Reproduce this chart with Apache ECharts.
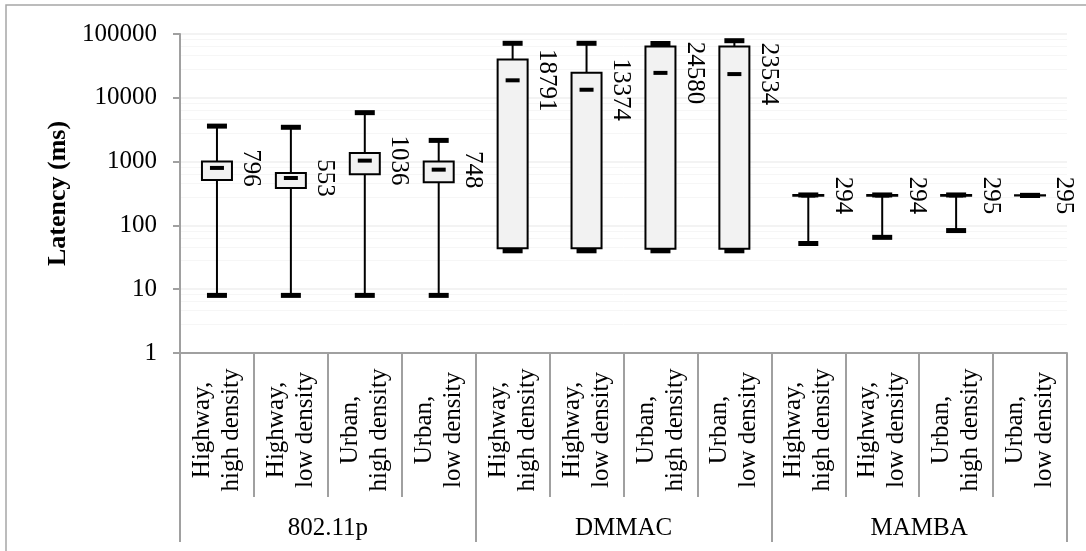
<!DOCTYPE html>
<html><head><meta charset="utf-8">
<script src="https://cdn.jsdelivr.net/npm/echarts@6/dist/echarts.min.js"></script>
<style>html,body{margin:0;padding:0;background:#fff}#c{width:1086px;height:551px}</style>
</head><body><div id="c"></div>
<script>
var categories = ["Highway,\nhigh density","Highway,\nlow density","Urban,\nhigh density","Urban,\nlow density",
                  "Highway,\nhigh density","Highway,\nlow density","Urban,\nhigh density","Urban,\nlow density",
                  "Highway,\nhigh density","Highway,\nlow density","Urban,\nhigh density","Urban,\nlow density"];
var groups = ["802.11p","DMMAC","MAMBA"];
var mins    = [8, 8, 8, 8, 40, 40, 40, 40, 52, 65, 83, 294];
var q1s     = [515, 386, 633, 473, 44, 44, 43, 43, 292, 292, 292, 295];
var medians = [796, 553, 1036, 748, 18791, 13374, 24580, 23534, 294, 294, 295, 295];
var q3s     = [1000, 660, 1360, 1000, 40000, 24700, 63500, 63500, 300, 300, 300, 296];
var maxs    = [3600, 3450, 5850, 2150, 71500, 71500, 71000, 78500, 300, 300, 300, 296];
var yTicks  = [1, 10, 100, 1000, 10000, 100000];

var FONT = "'Liberation Serif','Times New Roman',serif";
var data = categories.map(function(c, i){ return [i, mins[i], q1s[i], medians[i], q3s[i], maxs[i]]; });

var chart = echarts.init(document.getElementById('c'));
chart.setOption({
  animation: false,
  grid: {left: 180, right: 19, top: 34, bottom: 198},
  graphic: [{type:'rect', shape:{x:6, y:5, width:1200, height:700}, style:{fill:'none', stroke:'#a6a6a6', lineWidth:1.5}, silent:true}],
  xAxis: [{
    type: 'category', data: categories, position: 'bottom',
    axisLine: {show: true, lineStyle: {color: '#a0a0a0', width: 2}},
    axisTick: {show: true, interval: 0, length: 144, lineStyle: {color: '#a0a0a0', width: 2}},
    axisLabel: {interval: 0, rotate: 90, align: 'center', verticalAlign: 'middle', margin: 77,
                fontFamily: FONT, fontSize: 25, lineHeight: 29, color: '#000'},
    splitLine: {show: false}
  }, {
    type: 'category', data: groups, position: 'bottom',
    axisLine: {show: false},
    axisTick: {show: true, interval: 0, length: 189, lineStyle: {color: '#a0a0a0', width: 2}},
    axisLabel: {interval: 0, margin: 175, verticalAlign: 'middle', fontFamily: FONT, fontSize: 25, color: '#000'},
    splitLine: {show: false}
  }],
  yAxis: {
    type: 'log', logBase: 10, min: 1, max: 100000,
    name: 'Latency (ms)', nameLocation: 'middle', nameGap: 109, nameRotate: 90,
    nameTextStyle: {fontFamily: FONT, fontSize: 26, fontWeight: 'bold', color: '#000'},
    axisLine: {show: true, lineStyle: {color: '#a0a0a0', width: 2}},
    axisTick: {show: true, length: 7, lineStyle: {color: '#a0a0a0', width: 2}},
    axisLabel: {margin: 23, fontFamily: FONT, fontSize: 25, color: '#000',
                formatter: function(v){ var r = yTicks.filter(function(t){return Math.abs(t - v) < t*1e-6;}); return r.length ? String(r[0]) : ''; }},
    splitLine: {show: true, lineStyle: {color: '#efefef', width: 1.5}},
    minorTick: {show: false},
    minorSplitLine: {show: true, lineStyle: {color: '#f6f6f6', width: 1}}
  },
  series: [{
    type: 'custom',
    xAxisIndex: 0,
    data: data,
    encode: {x: 0, y: [1, 2, 3, 4, 5]},
    clip: false,
    renderItem: function(params, api){
      var i = api.value(0);
      var pMin = api.coord([i, api.value(1)]);
      var pQ1 = api.coord([i, api.value(2)]);
      var pMed = api.coord([i, api.value(3)]);
      var pQ3 = api.coord([i, api.value(4)]);
      var pMax = api.coord([i, api.value(5)]);
      var cx = pMin[0];
      var bw = 30, cw = 20, mw = 14;
      var black = '#000';
      return {type: 'group', children: [
        {type: 'line', shape: {x1: cx, y1: pMin[1], x2: cx, y2: pMax[1]}, style: {stroke: black, lineWidth: 2}},
        {type: 'rect', shape: {x: cx - bw/2, y: pQ3[1], width: bw, height: Math.max(pQ1[1] - pQ3[1], 0.01)},
         style: {fill: '#f2f2f2', stroke: black, lineWidth: 2}},
        {type: 'rect', shape: {x: cx - cw/2, y: pMax[1] - 2.5, width: cw, height: 5}, style: {fill: black}},
        {type: 'rect', shape: {x: cx - cw/2, y: pMin[1] - 2.5, width: cw, height: 5}, style: {fill: black}},
        {type: 'rect', shape: {x: cx - mw/2, y: pMed[1] - 2, width: mw, height: 4}, style: {fill: black}},
        {type: 'text', x: cx + 34, y: pMed[1], rotation: -Math.PI/2,
         style: {text: String(medians[i]), fill: black, font: "25px " + FONT, align: 'center', verticalAlign: 'middle'}}
      ]};
    }
  }]
});
</script></body></html>
